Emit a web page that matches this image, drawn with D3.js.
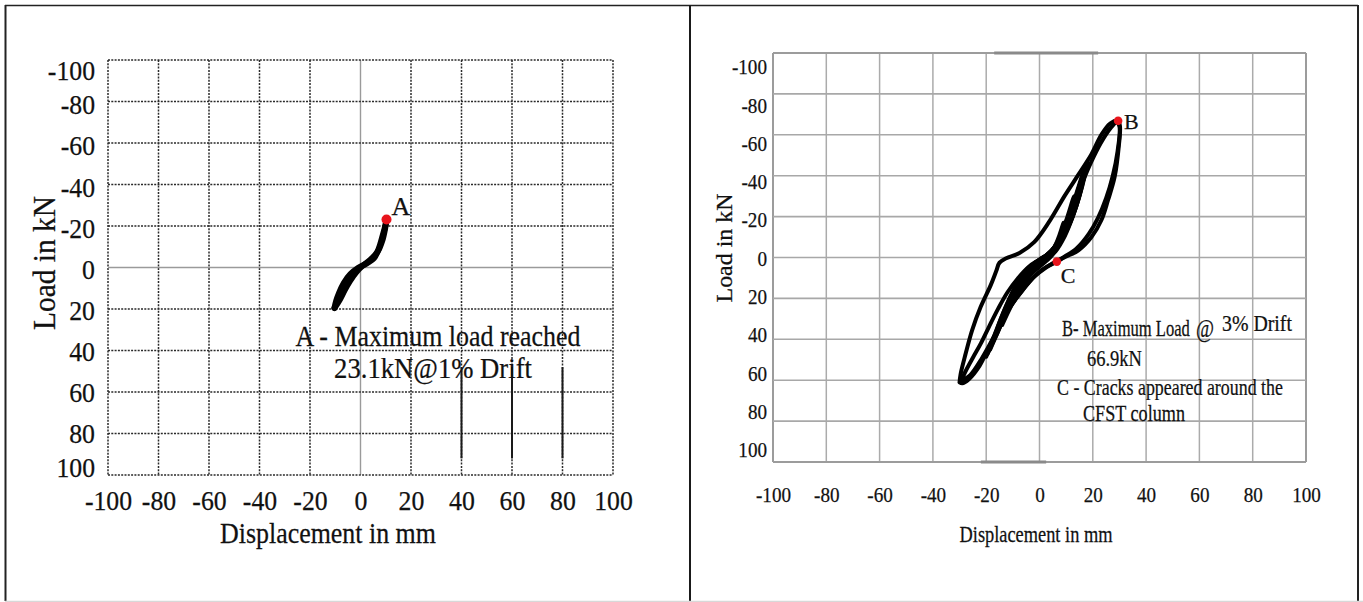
<!DOCTYPE html>
<html>
<head>
<meta charset="utf-8">
<script src="https://cdn.jsdelivr.net/npm/d3@7"></script>
<style>
  html, body { margin: 0; padding: 0; background: #fff; }
  svg { display: block; }
  text { font-family: "Liberation Serif", "Times New Roman", serif; fill: #111; stroke: #111; stroke-width: 0.25px; }
</style>
</head>
<body>
<svg id="chart" width="1363" height="602"></svg>
<script>
// ---- shared axis ticks -------------------------------------------------
const xTicks = [-100, -80, -60, -40, -20, 0, 20, 40, 60, 80, 100];
const yTicks = [-100, -80, -60, -40, -20, 0, 20, 40, 60, 80, 100];

// ---- panel 1: monotonic push to 1% drift (displacement mm, load kN) ----
const leftLoading = [[-10.3, 19.5], [-9.6, 16], [-8.4, 12], [-6.6, 7.5], [-4, 3.2], [-1, 0.2],
  [2.5, -2], [5.3, -4.4], [7.2, -9], [8.7, -15], [9.8, -20], [10.3, -23.1]];
const leftUnloading = [[10.3, -23.1], [9.7, -18.5], [8.6, -12.8], [6.8, -7.6], [3.8, -3.6],
  [0.8, -0.8], [-1.8, 2.4], [-4.2, 6.6], [-6.3, 11], [-8.2, 15.5], [-10.3, 19.5]];
const pointA = { label: "A", disp: 10.3, load: -23.1 };
const leftNotes = ["A - Maximum load reached", "23.1kN@1% Drift"];
// ruled solid overlays on a few dashed verticals
const leftSolidRules = [{ x: 40, from: 48, to: 92 }, { x: 60, from: 48, to: 92 }, { x: 80, from: 48, to: 92 }];

// ---- panel 2: cyclic loading up to 3% drift ----------------------------
const cycle1 = [[-9, 19], [-7, 13], [-5, 8], [-2.5, 3.5], [0, 1], [3, -1.5], [5.5, -5], [7.5, -11],
  [9, -17], [8.5, -14], [6.5, -6.5], [3.5, -1.5], [0.5, 2], [-2.5, 5.5], [-5, 10], [-7, 14.5], [-9, 19]];
const cycle2 = [[-14, 33], [-12, 26], [-9.5, 18], [-7, 11.5], [-4, 6], [-1, 2.5], [2, -0.5], [5, -4],
  [8, -11], [10.5, -20], [13, -30], [12.5, -25], [10.5, -16], [7.5, -7], [4, -1], [0.5, 3], [-3, 7],
  [-6, 12.5], [-9, 19.5], [-11.5, 26], [-14, 33]];
const cycle3 = [[-19.5, 47], [-17, 39], [-14.5, 30], [-11.5, 21], [-8, 12], [-4.5, 5.5], [-1, 2],
  [3, -1.5], [6.5, -6.5], [9.5, -15], [12.5, -25], [15, -35], [17.5, -45], [16.5, -38], [14.5, -28],
  [11.5, -17], [8, -8], [4.5, -1.5], [0.5, 3.5], [-3.5, 8], [-7.5, 15], [-11.5, 24], [-15, 34],
  [-17.5, 41], [-19.5, 47]];
const cycle4 = [[-20, 48.5], [-17.5, 40], [-15, 31.5], [-12, 22], [-8.5, 13], [-5, 6.5], [-1.5, 2.5],
  [2.5, -1], [6, -5.5], [9, -14], [12, -24], [14.5, -34], [17, -44], [16, -36], [14, -26], [11, -15.5],
  [7.5, -6.5], [4, 0], [0, 4.5], [-4, 9.5], [-8, 17], [-12, 26], [-15.5, 36], [-18, 43], [-20, 48.5]];
const cycle5 = [[-18.5, 45], [-16, 37], [-13, 27], [-10, 18], [-6.5, 10], [-3, 4], [0.5, 1],
  [4.5, -2.5], [7.5, -8], [10.5, -18], [13.5, -29], [16, -39], [18, -46.5], [17, -40], [15, -30],
  [12.5, -20], [9.5, -10.5], [6, -3], [2, 1.5], [-2, 6], [-6, 12.5], [-10, 21], [-13.5, 30],
  [-16.5, 39], [-18.5, 45]];
const cycle6 = [[-30, 61], [-29.6, 57], [-27.7, 47], [-25.3, 35.6], [-22.1, 24.2], [-18.3, 13.5],
  [-16.2, 6.5], [-15, 2.5], [-12.5, 0.4], [-7.5, -2.2], [-2, -7.5], [3.4, -17], [9.6, -30.5],
  [14.6, -40.5], [19.5, -50.5], [23.2, -60], [26.5, -65.5], [29.5, -66.9], [30.2, -64], [29.8, -55],
  [28.2, -39.4], [25.7, -28], [23.2, -18.2], [19.5, -10], [14.6, -3.5], [9.6, -0.2], [6.5, 2],
  [2.3, 5], [-2.5, 10], [-7.2, 17.5], [-12, 26], [-15.5, 35], [-19, 44], [-22.5, 53], [-26.5, 59.5],
  [-29, 61.5], [-30, 61]];
const cycle7 = [[-29.5, 60.5], [-27.5, 55], [-25, 49], [-22, 42], [-19, 34], [-15.5, 25], [-12, 17],
  [-8, 10], [-4, 4.5], [0, 1], [4, -2.5], [7.5, -9], [10.5, -18], [13.5, -28], [16.5, -38], [19.5, -47],
  [23, -56], [26.5, -63], [29, -66], [30, -64], [29.3, -52], [27.5, -40], [25, -29], [22, -19.5],
  [18.5, -11.5], [14, -4.5], [9.5, -0.5], [5, 2.8], [1, 6], [-3.5, 11.5], [-8.5, 19.5], [-13, 28.5],
  [-17, 38.5], [-21.5, 49], [-26, 57.5], [-29.5, 60.5]];
const rightCycles = [cycle1, cycle2, cycle3, cycle4, cycle5, cycle6, cycle7];
const pointB = { label: "B", disp: 29.5, load: -66.9 };
const pointC = { label: "C", disp: 6.5, load: 2 };
// darker rule pieces on the top and bottom frame
const rightFrameMarks = [{ load: -100, from: -17, to: 22 }, { load: 100, from: -22, to: 2.5 }];

// ---- drawing -------------------------------------------------------------
const svg = d3.select("#chart");

// squeeze a tick label horizontally by a factor, keeping its anchor
function squeeze(sel, k) {
  sel.each(function () {
    const w = this.getComputedTextLength();
    this.setAttribute("textLength", (w * k).toFixed(1));
    this.setAttribute("lengthAdjust", "spacingAndGlyphs");
  });
}
// condensed text: drawn at fontSize, then scaled horizontally to a given width
function label(parent, str, x, y, fontSize, width, anchor = "start", rotate = 0) {
  const t = parent.append("text").attr("font-size", fontSize).attr("text-anchor", anchor).text(str);
  const k = width / t.node().getComputedTextLength();
  t.attr("transform", `translate(${x},${y}) rotate(${rotate}) scale(${k.toFixed(4)},1)`);
  return t;
}

// outer frames of both panels
const frame = svg.append("g").attr("fill", "none");
frame.append("line").attr("x1", 5).attr("x2", 1358).attr("y1", 5.5).attr("y2", 5.5).attr("stroke", "#222").attr("stroke-width", 1.5);
frame.append("line").attr("x1", 5.5).attr("x2", 5.5).attr("y1", 5).attr("y2", 601).attr("stroke", "#222").attr("stroke-width", 2);
frame.append("line").attr("x1", 690).attr("x2", 690).attr("y1", 5).attr("y2", 602).attr("stroke", "#1a1a1a").attr("stroke-width", 2);
frame.append("line").attr("x1", 1358).attr("x2", 1358).attr("y1", 5).attr("y2", 601).attr("stroke", "#222").attr("stroke-width", 2);
frame.append("line").attr("x1", 5).attr("x2", 1363).attr("y1", 601.5).attr("y2", 601.5).attr("stroke", "#d8d8d8").attr("stroke-width", 1.5);

const lineGen = (x, y) => d3.line().x(d => x(d[0])).y(d => y(d[1])).curve(d3.curveCatmullRom.alpha(0.5));

// ===== left panel =====
{
  const x = d3.scaleLinear().domain([-100, 100]).range([108, 613]);
  const y = d3.scaleLinear().domain([-100, 100]).range([60, 475]);
  // tick labels sit slightly inside the frame at both ends
  const yLab = d3.scaleLinear().domain([-100, -80, 80, 100]).range([70, 104, 433, 467]);
  const g = svg.append("g");

  const grid = g.append("g");
  grid.selectAll("line.v").data(xTicks).join("line")
    .attr("x1", d => x(d)).attr("x2", d => x(d)).attr("y1", y(-100)).attr("y2", y(100))
    .attr("stroke", d => d === 0 ? "#9a9a9a" : "#2a2a2a")
    .attr("stroke-width", d => d === 0 ? 1.4 : 1.5)
    .attr("stroke-dasharray", d => d === 0 ? null : "2,1.3");
  grid.selectAll("line.h").data(yTicks).join("line")
    .attr("y1", d => y(d)).attr("y2", d => y(d)).attr("x1", x(-100)).attr("x2", x(100))
    .attr("stroke", d => d === 0 ? "#9a9a9a" : "#2a2a2a")
    .attr("stroke-width", d => d === 0 ? 1.4 : 1.5)
    .attr("stroke-dasharray", d => d === 0 ? null : "2,1.3");
  grid.selectAll("line.s").data(leftSolidRules).join("line")
    .attr("x1", d => x(d.x)).attr("x2", d => x(d.x)).attr("y1", d => y(d.from)).attr("y2", d => y(d.to))
    .attr("stroke", "#1a1a1a").attr("stroke-width", 2);

  // axes (labels only)
  const ax = g.append("g").attr("transform", `translate(0,${y(100) + 35})`)
    .call(d3.axisBottom(x).tickValues(xTicks).tickSize(0).tickFormat(d => String(d)));
  ax.select(".domain").remove();
  ax.selectAll("text").attr("font-size", 28).attr("font-family", null).attr("dy", "0").attr("y", 0).attr("fill", "#111");
  squeeze(ax.selectAll("text"), 0.92);

  const ay = g.append("g").attr("transform", `translate(${x(-100) - 13},0)`)
    .call(d3.axisLeft(yLab).tickValues(yTicks).tickSize(0).tickPadding(0).tickFormat(d => String(d)));
  ay.select(".domain").remove();
  ay.selectAll("text").attr("font-size", 28).attr("font-family", null).attr("dy", "0.35em").attr("fill", "#111");
  squeeze(ay.selectAll("text"), 0.92);

  label(g, "Displacement in mm", 328, 543, 30, 216, "middle");
  label(g, "Load in kN", 55, 263, 31, 134, "middle", -90);

  // load path
  const lg = lineGen(x, y);
  g.append("g").selectAll("path").data([leftLoading, leftUnloading]).join("path")
    .attr("d", lg).attr("fill", "none").attr("stroke", "#000").attr("stroke-width", 6)
    .attr("stroke-linecap", "round").attr("stroke-linejoin", "round");

  g.append("circle").attr("cx", x(pointA.disp)).attr("cy", y(pointA.load)).attr("r", 5).attr("fill", "#e8141c");
  g.append("text").attr("x", x(pointA.disp) + 5).attr("y", y(pointA.load) - 5).attr("font-size", 26).text(pointA.label);

  label(g, leftNotes[0], 438, 346, 30, 285, "middle");
  label(g, leftNotes[1], 433, 378, 30, 198, "middle");
}

// ===== right panel =====
{
  const x = d3.scaleLinear().domain([-100, 100]).range([773, 1306]);
  const y = d3.scaleLinear().domain([-100, 100]).range([53, 462]);
  // load tick labels are spaced a little tighter than the grid
  const yLab = d3.scaleLinear().domain([-100, 100]).range([66, 449]);
  const g = svg.append("g");

  const grid = g.append("g");
  grid.selectAll("line.v").data(xTicks).join("line")
    .attr("x1", d => x(d)).attr("x2", d => x(d)).attr("y1", y(-100)).attr("y2", y(100))
    .attr("stroke", d => Math.abs(d) === 100 ? "#9c9c9c" : "#ababab")
    .attr("stroke-width", d => Math.abs(d) === 100 ? 2 : 1.5);
  grid.selectAll("line.h").data(yTicks).join("line")
    .attr("y1", d => y(d)).attr("y2", d => y(d)).attr("x1", x(-100)).attr("x2", x(100))
    .attr("stroke", d => Math.abs(d) === 100 ? "#9c9c9c" : "#a8a8a8")
    .attr("stroke-width", d => Math.abs(d) === 100 ? 2.2 : 1.6);
  grid.selectAll("line.m").data(rightFrameMarks).join("line")
    .attr("x1", d => x(d.from)).attr("x2", d => x(d.to)).attr("y1", d => y(d.load)).attr("y2", d => y(d.load))
    .attr("stroke", "#8a8a8a").attr("stroke-width", 3);

  const ax = g.append("g").attr("transform", `translate(0,${y(100) + 40})`)
    .call(d3.axisBottom(x).tickValues(xTicks).tickSize(0).tickFormat(d => String(d)));
  ax.select(".domain").remove();
  ax.selectAll("text").attr("font-size", 22).attr("font-family", null).attr("dy", "0").attr("y", 0).attr("fill", "#111");
  squeeze(ax.selectAll("text"), 0.87);

  const ay = g.append("g").attr("transform", `translate(${x(-100) - 6},0)`)
    .call(d3.axisLeft(yLab).tickValues(yTicks).tickSize(0).tickPadding(0).tickFormat(d => String(d)));
  ay.select(".domain").remove();
  ay.selectAll("text").attr("font-size", 22).attr("font-family", null).attr("dy", "0.35em").attr("fill", "#111");
  squeeze(ay.selectAll("text"), 0.87);

  label(g, "Displacement in mm", 1036, 542, 23, 153, "middle");
  label(g, "Load in kN", 732, 248, 24, 109, "middle", -90);

  const lg = lineGen(x, y);
  g.append("g").selectAll("path").data(rightCycles).join("path")
    .attr("d", lg).attr("fill", "none").attr("stroke", "#000").attr("stroke-width", 4)
    .attr("stroke-linecap", "round").attr("stroke-linejoin", "round");

  [pointB, pointC].forEach(p => {
    g.append("circle").attr("cx", x(p.disp)).attr("cy", y(p.load)).attr("r", 4.3).attr("fill", "#e8141c");
  });
  g.append("text").attr("x", x(pointB.disp) + 6).attr("y", y(pointB.load) + 8).attr("font-size", 22).text(pointB.label);
  g.append("text").attr("x", x(pointC.disp) + 4).attr("y", y(pointC.load) + 21).attr("font-size", 22).text(pointC.label);

  const notes = g.append("g");
  label(notes, "B- Maximum Load", 1062, 336, 23, 128);
  label(notes, "@", 1196, 337, 25, 18);
  label(notes, "3% Drift", 1222, 331, 23, 70);
  label(notes, "66.9kN", 1087, 366, 23, 55);
  label(notes, "C - Cracks appeared around the", 1057, 395, 23, 226);
  label(notes, "CFST column", 1083, 421, 23, 102);
}
</script>
</body>
</html>
